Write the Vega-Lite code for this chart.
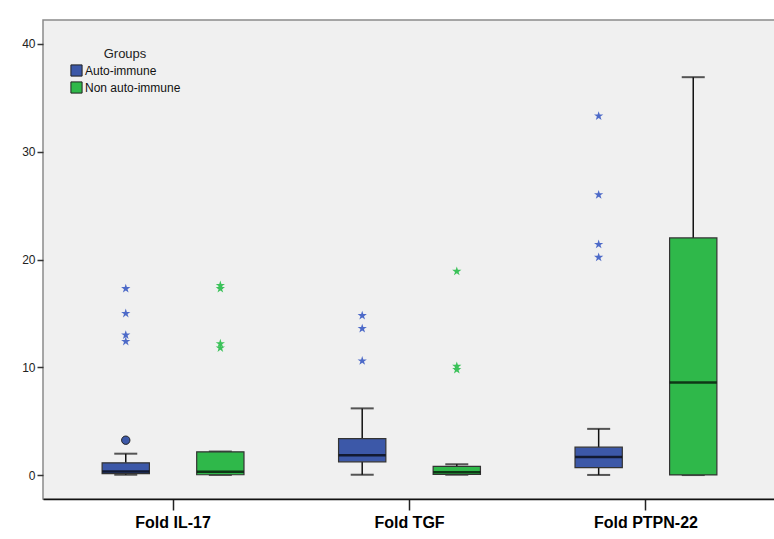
{
  "$schema": "https://vega.github.io/schema/vega-lite/v6.json",
  "width": 733,
  "height": 479,
  "autosize": {"type": "none"},
  "padding": {"left": 43, "top": 20, "right": 0, "bottom": 40},
  "background": "#ffffff",
  "config": {
    "font": "Liberation Sans",
    "view": {"fill": "#F0F0F0", "stroke": "#8a8a8a", "strokeWidth": 1.5}
  },
  "datasets": {
    "stats": [
      {"gene": "Fold IL-17", "group": "Auto-immune", "lower": 0.05, "q1": 0.15, "median": 0.35, "q3": 1.15, "upper": 2.0},
      {"gene": "Fold IL-17", "group": "Non auto-immune", "lower": 0.03, "q1": 0.05, "median": 0.32, "q3": 2.17, "upper": 2.2},
      {"gene": "Fold TGF", "group": "Auto-immune", "lower": 0.05, "q1": 1.25, "median": 1.85, "q3": 3.4, "upper": 6.2},
      {"gene": "Fold TGF", "group": "Non auto-immune", "lower": 0.05, "q1": 0.07, "median": 0.28, "q3": 0.83, "upper": 1.02},
      {"gene": "Fold PTPN-22", "group": "Auto-immune", "lower": 0.03, "q1": 0.7, "median": 1.7, "q3": 2.6, "upper": 4.3},
      {"gene": "Fold PTPN-22", "group": "Non auto-immune", "lower": 0.02, "q1": 0.03, "median": 8.6, "q3": 22.0, "upper": 36.9}
    ],
    "outliers": [
      {"gene": "Fold IL-17", "group": "Auto-immune", "kind": "star", "value": 17.3},
      {"gene": "Fold IL-17", "group": "Auto-immune", "kind": "star", "value": 15.0},
      {"gene": "Fold IL-17", "group": "Auto-immune", "kind": "star", "value": 13.0},
      {"gene": "Fold IL-17", "group": "Auto-immune", "kind": "star", "value": 12.4},
      {"gene": "Fold IL-17", "group": "Auto-immune", "kind": "circle", "value": 3.25},
      {"gene": "Fold IL-17", "group": "Non auto-immune", "kind": "star", "value": 17.6},
      {"gene": "Fold IL-17", "group": "Non auto-immune", "kind": "star", "value": 17.3},
      {"gene": "Fold IL-17", "group": "Non auto-immune", "kind": "star", "value": 12.2},
      {"gene": "Fold IL-17", "group": "Non auto-immune", "kind": "star", "value": 11.8},
      {"gene": "Fold TGF", "group": "Auto-immune", "kind": "star", "value": 14.8},
      {"gene": "Fold TGF", "group": "Auto-immune", "kind": "star", "value": 13.6},
      {"gene": "Fold TGF", "group": "Auto-immune", "kind": "star", "value": 10.6},
      {"gene": "Fold TGF", "group": "Non auto-immune", "kind": "star", "value": 18.9},
      {"gene": "Fold TGF", "group": "Non auto-immune", "kind": "star", "value": 10.1},
      {"gene": "Fold TGF", "group": "Non auto-immune", "kind": "star", "value": 9.8},
      {"gene": "Fold PTPN-22", "group": "Auto-immune", "kind": "star", "value": 33.3},
      {"gene": "Fold PTPN-22", "group": "Auto-immune", "kind": "star", "value": 26.0},
      {"gene": "Fold PTPN-22", "group": "Auto-immune", "kind": "star", "value": 21.4},
      {"gene": "Fold PTPN-22", "group": "Auto-immune", "kind": "star", "value": 20.2}
    ]
  },
  "encoding": {
    "x": {
      "field": "gene", "type": "nominal",
      "sort": ["Fold IL-17", "Fold TGF", "Fold PTPN-22"],
      "scale": {"paddingInner": 0, "paddingOuter": 0.05},
      "axis": {
        "title": null, "labelAngle": 0, "labelFontSize": 16, "labelFontWeight": "bold",
        "labelColor": "#000", "labelPadding": 4, "tickSize": 11, "tickColor": "#222", "tickWidth": 1.5,
        "domainColor": "#111", "domainWidth": 1.5, "grid": false
      }
    },
    "xOffset": {
      "field": "group", "type": "nominal",
      "sort": ["Auto-immune", "Non auto-immune"],
      "scale": {"paddingInner": 0.5, "paddingOuter": 0.5}
    }
  },
  "layer": [
    {
      "data": {"name": "stats"},
      "mark": {"type": "rule", "color": "#111", "strokeWidth": 1.5},
      "encoding": {
        "y": {
          "field": "q3", "type": "quantitative",
          "scale": {"domain": [-2.2, 42.2], "nice": false, "zero": false},
          "axis": {
            "title": null, "values": [0, 10, 20, 30, 40], "grid": false, "domain": false,
            "labelFontSize": 12, "labelColor": "#222", "tickSize": 6, "tickColor": "#333", "tickWidth": 1.5, "labelPadding": 2
          }
        },
        "y2": {"field": "upper"}
      }
    },
    {
      "data": {"name": "stats"},
      "mark": {"type": "rule", "color": "#111", "strokeWidth": 1.5},
      "encoding": {
        "y": {"field": "lower", "type": "quantitative"},
        "y2": {"field": "q1"}
      }
    },
    {
      "data": {"name": "stats"},
      "mark": {"type": "tick", "color": "#111", "thickness": 2, "size": 23},
      "encoding": {"y": {"field": "upper", "type": "quantitative"}}
    },
    {
      "data": {"name": "stats"},
      "mark": {"type": "tick", "color": "#111", "thickness": 2, "size": 23},
      "encoding": {"y": {"field": "lower", "type": "quantitative"}}
    },
    {
      "data": {"name": "stats"},
      "mark": {"type": "bar", "stroke": "#333", "strokeWidth": 1.2},
      "encoding": {
        "y": {"field": "q1", "type": "quantitative"},
        "y2": {"field": "q3"},
        "fill": {
          "field": "group", "type": "nominal",
          "scale": {"domain": ["Auto-immune", "Non auto-immune"], "range": ["#3C58A8", "#2FB84A"]},
          "legend": {
            "title": "Groups", "orient": "none", "legendX": 27, "legendY": 28,
            "titleFontWeight": "normal", "titleFontSize": 13, "titleColor": "#222", "titleAnchor": "middle",
            "titlePadding": 3, "labelFontSize": 12, "labelColor": "#111", "labelOffset": 2,
            "symbolType": "square", "symbolSize": 125, "symbolStrokeColor": "#222", "symbolStrokeWidth": 1,
            "rowPadding": 0, "symbolOpacity": 1
          }
        }
      }
    },
    {
      "data": {"name": "stats"},
      "mark": {"type": "tick", "color": "#000", "thickness": 2.5, "size": 47},
      "encoding": {"y": {"field": "median", "type": "quantitative"}}
    },
    {
      "data": {"name": "outliers"},
      "transform": [{"filter": "datum.kind === 'star'"}],
      "mark": {
        "type": "point", "filled": true, "size": 95, "opacity": 1,
        "shape": "M0,-1L0.2245,-0.309L0.951,-0.309L0.363,0.118L0.588,0.809L0,0.382L-0.588,0.809L-0.363,0.118L-0.951,-0.309L-0.2245,-0.309Z"
      },
      "encoding": {
        "y": {"field": "value", "type": "quantitative"},
        "color": {
          "field": "group", "type": "nominal",
          "scale": {"domain": ["Auto-immune", "Non auto-immune"], "range": ["#4D6AC8", "#3CC25A"]},
          "legend": null
        }
      }
    },
    {
      "data": {"name": "outliers"},
      "transform": [{"filter": "datum.kind === 'circle'"}],
      "mark": {"type": "point", "shape": "circle", "filled": true, "size": 70, "opacity": 1, "fill": "#3C58A8", "stroke": "#222", "strokeWidth": 1},
      "encoding": {"y": {"field": "value", "type": "quantitative"}}
    }
  ]
}
